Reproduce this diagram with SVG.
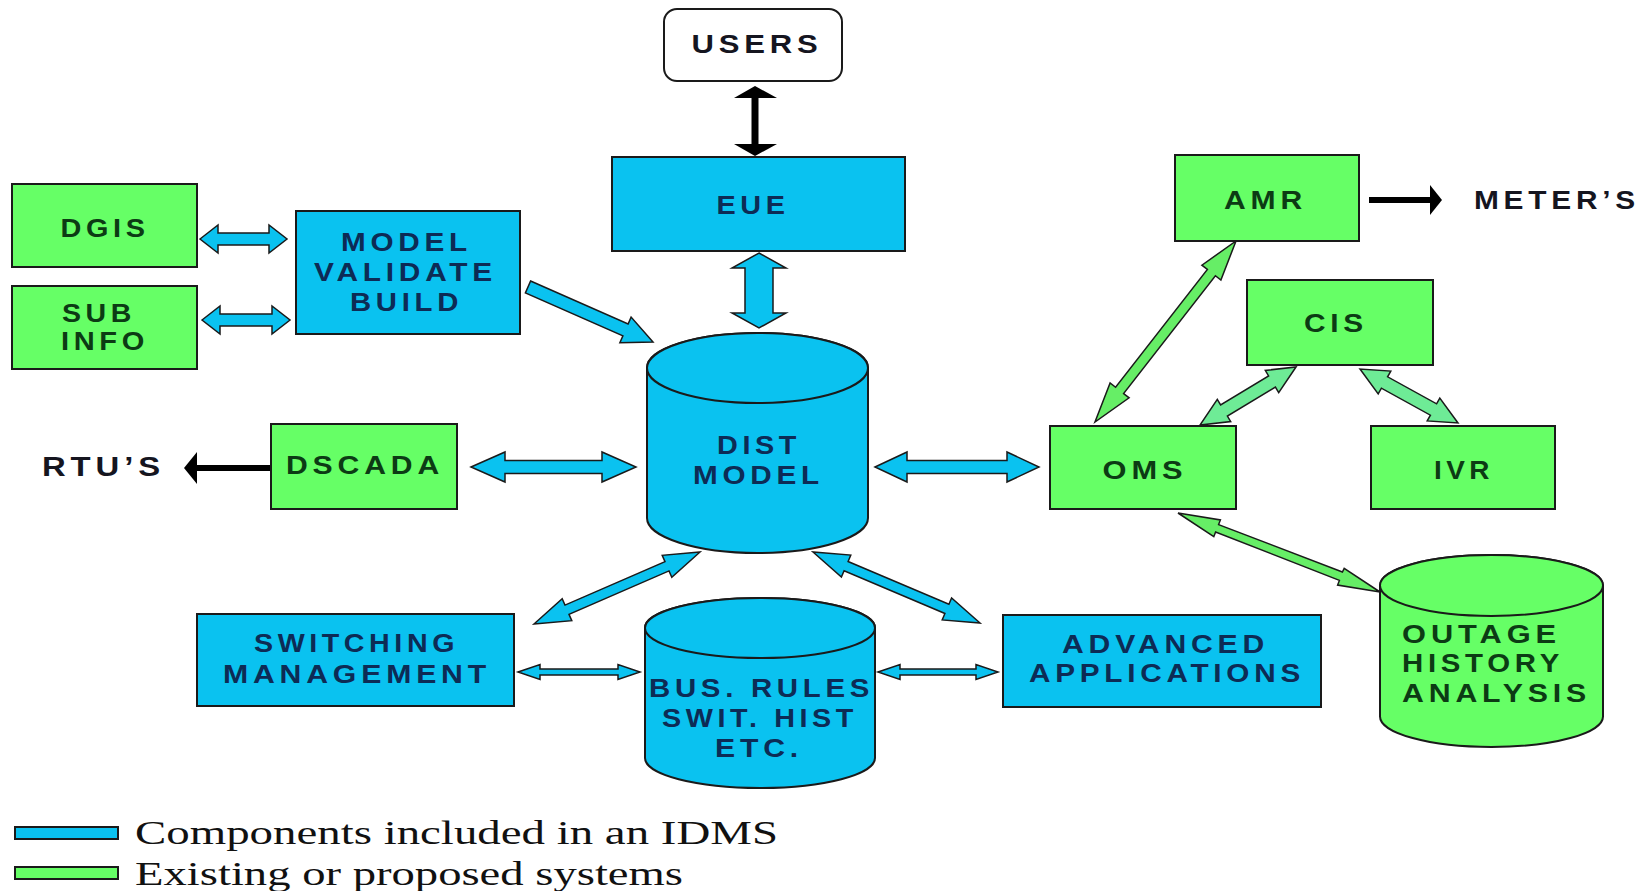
<svg xmlns="http://www.w3.org/2000/svg" width="1648" height="891" viewBox="0 0 1648 891">
<style>
.b{fill:#0AC2F0;stroke:#1a1a1a;stroke-width:2}
.g{fill:#66FF66;stroke:#1a1a1a;stroke-width:2}
.ga{fill:#66EE66;stroke:#1a1a1a;stroke-width:1.5}
.gm{fill:#6EEB96;stroke:#1a1a1a;stroke-width:1.5}
.ba{fill:#0AC2F0;stroke:#1a1a1a;stroke-width:1.5}
.k{stroke:#000;fill:none}
.kh{fill:#000}
text{font-family:"Liberation Sans",Arial,sans-serif;font-weight:bold;font-size:25px;letter-spacing:4px}
.tb{fill:#0d2b55}
.tg{fill:#0c3b14}
.tk{fill:#15151f}
.lg{font-family:"Liberation Serif","Times New Roman",serif;font-weight:normal;font-size:33px;fill:#111;letter-spacing:0}
</style>
<rect width="1648" height="891" fill="#fff"/>

<g id="connectors">
<line class="k" x1="755" y1="94" x2="755" y2="148" stroke-width="7"/>
<polygon class="kh" points="755,86 777,98 734,98"/>
<polygon class="kh" points="755,156 777,144 734,144"/>
<line class="k" x1="1369" y1="200" x2="1432" y2="200" stroke-width="6"/>
<polygon class="kh" points="1442,200 1430,185 1430,215"/>
<line class="k" x1="271" y1="468" x2="195" y2="468" stroke-width="6"/>
<polygon class="kh" points="184,468 197,452 197,484"/>

<polygon class="ba" points="200,239 218,225 218,233 269,233 269,225 287,239 269,253 269,245 218,245 218,253"/>
<polygon class="ba" points="202,320 220,306 220,314 272,314 272,306 290,320 272,334 272,326 220,326 220,334"/>
<polygon class="ba" points="759,253 786,268 773,268 773,313 786,313 759,328 732,313 745,313 745,268 732,268"/>
<polygon class="ba" points="471,467 505,452 505,460.5 602,460.5 602,452 636,467 602,482 602,473.5 505,473.5 505,482"/>
<polygon class="ba" points="875,467 907,452 907,460.5 1007,460.5 1007,452 1039,467 1007,482 1007,473.5 907,473.5 907,482"/>
<polygon class="ba" points="530.6,281 628.1,324 631.1,317.1 653,342 619.9,342.7 622.9,335.9 525.4,292.9"/>
<polygon class="ba" points="534,624 571.8,620.7 569,614.3 669,570.9 671.8,577.3 700,552 662.2,555.3 665,561.7 565,605.1 562.2,598.7"/>
<polygon class="ba" points="813,552 841.4,577.1 844.1,570.7 944.9,613.5 942.2,619.9 980,623 951.6,597.9 948.9,604.3 848.1,561.5 850.8,555.1"/>
<polygon class="ba" points="518,672 540,664.5 540,669 618,669 618,664.5 640,672 618,679.5 618,675 540,675 540,679.5"/>
<polygon class="ba" points="878,672 900,664.5 900,669 976,669 976,664.5 998,672 976,679.5 976,675 900,675 900,679.5"/>

<polygon class="ga" points="1236,241 1220.9,280 1215.4,275.7 1123.6,393.5 1129.1,397.8 1095,422 1110.1,383 1115.6,387.3 1207.4,269.5 1201.9,265.2"/>
<polygon class="gm" points="1296,367 1278.7,392.6 1275.4,387.1 1227.4,416.1 1230.7,421.6 1200,425 1217.3,399.4 1220.6,404.9 1268.6,375.9 1265.3,370.4"/>
<polygon class="gm" points="1360,369 1378.2,393.9 1381.4,388.2 1430.4,415.2 1427.2,420.9 1458,423 1439.8,398.1 1436.6,403.8 1387.6,376.8 1390.8,371.1"/>
<polygon class="ga" points="1178,513 1213.8,536.7 1215.6,532 1339.4,580.4 1337.6,585.1 1380,592 1344.2,568.3 1342.4,572 1218.6,524.6 1220.4,519.9"/>
</g>

<g id="users">
<rect x="664" y="9" width="178" height="72" rx="13" fill="#fff" stroke="#1a1a1a" stroke-width="2"/>
<text class="tk" x="757" y="53" text-anchor="middle" textLength="131" lengthAdjust="spacingAndGlyphs" style="font-size:26px">USERS</text>
</g>
<g id="eue">
<rect class="b" x="612" y="157" width="293" height="94"/>
<text class="tb" x="753" y="214" text-anchor="middle" textLength="73" lengthAdjust="spacingAndGlyphs">EUE</text>
</g>
<g id="dgis">
<rect class="g" x="12" y="184" width="185" height="83"/>
<text class="tg" x="105" y="237" text-anchor="middle" textLength="89" lengthAdjust="spacingAndGlyphs">DGIS</text>
</g>
<g id="subinfo">
<rect class="g" x="12" y="286" width="185" height="83"/>
<text class="tg" x="62" y="322" textLength="74" lengthAdjust="spacingAndGlyphs">SUB</text>
<text class="tg" x="61" y="350" textLength="88" lengthAdjust="spacingAndGlyphs">INFO</text>
</g>
<g id="mvb">
<rect class="b" x="296" y="211" width="224" height="123"/>
<text class="tb" x="406.5" y="251" text-anchor="middle" textLength="131" lengthAdjust="spacingAndGlyphs">MODEL</text>
<text class="tb" x="405.5" y="281" text-anchor="middle" textLength="183" lengthAdjust="spacingAndGlyphs">VALIDATE</text>
<text class="tb" x="406.5" y="311" text-anchor="middle" textLength="113" lengthAdjust="spacingAndGlyphs">BUILD</text>
</g>
<g id="dscada">
<rect class="g" x="271" y="424" width="186" height="85"/>
<text class="tg" x="365" y="474" text-anchor="middle" textLength="158" lengthAdjust="spacingAndGlyphs">DSCADA</text>
</g>
<g id="rtus">
<text class="tk" x="103.5" y="476" text-anchor="middle" textLength="123" lengthAdjust="spacingAndGlyphs" style="font-size:27px">RTU’S</text>
</g>
<g id="distmodel">
<path class="b" d="M647,368 V518 A110.5,35 0 0,0 868,518 V368 A110.5,35 0 0,0 647,368 Z"/>
<ellipse class="b" cx="757.5" cy="368" rx="110.5" ry="35"/>
<text class="tb" x="759" y="454" text-anchor="middle" textLength="84" lengthAdjust="spacingAndGlyphs">DIST</text>
<text class="tb" x="758.5" y="484" text-anchor="middle" textLength="131" lengthAdjust="spacingAndGlyphs">MODEL</text>
</g>
<g id="switching">
<rect class="b" x="197" y="614" width="317" height="92"/>
<text class="tb" x="356.5" y="652" text-anchor="middle" textLength="205" lengthAdjust="spacingAndGlyphs">SWITCHING</text>
<text class="tb" x="357" y="683" text-anchor="middle" textLength="268" lengthAdjust="spacingAndGlyphs">MANAGEMENT</text>
</g>
<g id="busrules">
<path class="b" d="M645,628 V758 A115,30 0 0,0 875,758 V628 A115,30 0 0,0 645,628 Z"/>
<ellipse class="b" cx="760" cy="628" rx="115" ry="30"/>
<text class="tb" x="761.5" y="697" text-anchor="middle" textLength="225" lengthAdjust="spacingAndGlyphs">BUS. RULES</text>
<text class="tb" x="760" y="727" text-anchor="middle" textLength="196" lengthAdjust="spacingAndGlyphs">SWIT. HIST</text>
<text class="tb" x="759" y="757" text-anchor="middle" textLength="88" lengthAdjust="spacingAndGlyphs">ETC.</text>
</g>
<g id="advanced">
<rect class="b" x="1003" y="615" width="318" height="92"/>
<text class="tb" x="1165.5" y="653" text-anchor="middle" textLength="207" lengthAdjust="spacingAndGlyphs">ADVANCED</text>
<text class="tb" x="1167" y="682" text-anchor="middle" textLength="276" lengthAdjust="spacingAndGlyphs">APPLICATIONS</text>
</g>
<g id="amr">
<rect class="g" x="1175" y="155" width="184" height="86"/>
<text class="tg" x="1265.5" y="209" text-anchor="middle" textLength="83" lengthAdjust="spacingAndGlyphs">AMR</text>
</g>
<g id="meters">
<text class="tk" x="1557" y="209" text-anchor="middle" textLength="166" lengthAdjust="spacingAndGlyphs">METER’S</text>
</g>
<g id="cis">
<rect class="g" x="1247" y="280" width="186" height="85"/>
<text class="tg" x="1336" y="332" text-anchor="middle" textLength="64" lengthAdjust="spacingAndGlyphs">CIS</text>
</g>
<g id="oms">
<rect class="g" x="1050" y="426" width="186" height="83"/>
<text class="tg" x="1145" y="479" text-anchor="middle" textLength="85" lengthAdjust="spacingAndGlyphs">OMS</text>
</g>
<g id="ivr">
<rect class="g" x="1371" y="426" width="184" height="83"/>
<text class="tg" x="1464" y="479" text-anchor="middle" textLength="60" lengthAdjust="spacingAndGlyphs">IVR</text>
</g>
<g id="outage">
<path class="g" d="M1380,585.5 V716.5 A111.5,30.5 0 0,0 1603,716.5 V585.5 A111.5,30.5 0 0,0 1380,585.5 Z"/>
<ellipse class="g" cx="1491.5" cy="585.5" rx="111.5" ry="30.5"/>
<text class="tg" x="1402" y="643" textLength="159" lengthAdjust="spacingAndGlyphs">OUTAGE</text>
<text class="tg" x="1402" y="672" textLength="162" lengthAdjust="spacingAndGlyphs">HISTORY</text>
<text class="tg" x="1402" y="702" textLength="189" lengthAdjust="spacingAndGlyphs">ANALYSIS</text>
</g>
<g id="legend">
<rect class="b" x="15" y="827" width="103" height="12"/>
<text class="lg" x="135" y="844" textLength="643" lengthAdjust="spacingAndGlyphs">Components included in an IDMS</text>
<rect class="g" x="15" y="867" width="103" height="12"/>
<text class="lg" x="135" y="885" textLength="548" lengthAdjust="spacingAndGlyphs">Existing or proposed systems</text>
</g>
</svg>
